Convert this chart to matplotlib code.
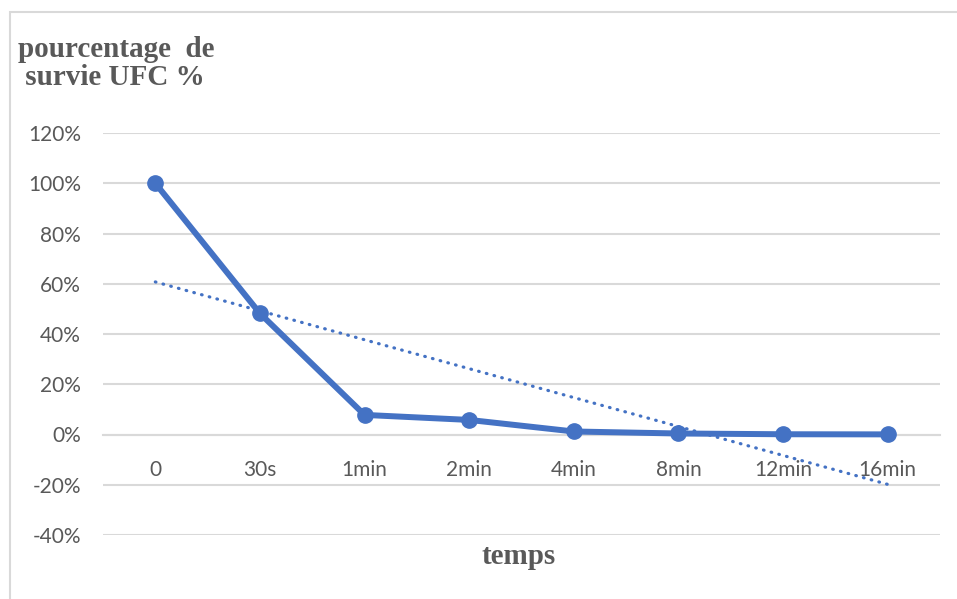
import numpy as np
import matplotlib.pyplot as plt
from matplotlib.patches import Rectangle
from matplotlib.ticker import FuncFormatter

categories = ['0', '30s', '1min', '2min', '4min', '8min', '12min', '16min']
survie = [100, 48.2, 7.8, 5.8, 1.2, 0.4, 0.1, 0.05]
y_ticks = [-40, -20, 0, 20, 40, 60, 80, 100, 120]

bleu = '#4472C4'
gris = '#595959'
grille = '#D9D9D9'

fig = plt.figure(figsize=(9.57, 5.99), dpi=100)
W, H = 957, 599

# cadre gris clair autour du graphique
fig.patches.append(Rectangle((10 / W, -0.1), 1.2, 1 - 12 / H + 0.1,
                             transform=fig.transFigure, fill=False,
                             edgecolor=grille, linewidth=1.5))

ax = fig.add_axes([103 / W, 1 - 535 / H, (940 - 103) / W, (535 - 133) / H])

x = np.arange(len(categories))
ax.plot(x, survie, color=bleu, linewidth=4.3, marker='o', markersize=11,
        solid_capstyle='round', zorder=3)

# courbe de tendance linéaire (comme dans Excel, x = 1..n)
xn = x + 1
pente, ordonnee = np.polyfit(xn, survie, 1)
ax.plot(x, pente * xn + ordonnee, color=bleu, linewidth=2.3,
        linestyle=(0, (0.2, 2.3)), dash_capstyle='round', zorder=2)

ax.set_xlim(-0.5, len(categories) - 0.5)
ax.set_ylim(-40, 120)
ax.set_yticks(y_ticks)
ax.yaxis.set_major_formatter(FuncFormatter(lambda v, p: f'{v:.0f}%'))
ax.grid(axis='y', color=grille, linewidth=1.5)
ax.set_axisbelow(True)

for s in ['top', 'right', 'left']:
    ax.spines[s].set_visible(False)
ax.spines['bottom'].set_position(('data', 0))
ax.spines['bottom'].set_color(grille)
ax.spines['bottom'].set_linewidth(1.5)
ax.spines['bottom'].set_zorder(1)

ax.set_xticks(x)
ax.set_xticklabels(categories)
ax.tick_params(axis='x', length=0, pad=18, labelsize=15, labelcolor=gris)
ax.tick_params(axis='y', length=0, pad=16, labelsize=15, labelcolor=gris)
for lab in ax.get_xticklabels() + ax.get_yticklabels():
    lab.set_fontfamily('Lato')

fig.text(18 / W, 1 - 36 / H, 'pourcentage  de\n survie UFC %',
         fontfamily='Liberation Serif', fontweight='bold', fontsize=21,
         color=gris, ha='left', va='top', linespacing=1.05)
fig.text(519 / W, 1 - 556 / H, 'temps', fontfamily='Liberation Serif',
         fontweight='bold', fontsize=21, color=gris, ha='center', va='center')

fig.savefig('out.png', dpi=100, facecolor='white')
